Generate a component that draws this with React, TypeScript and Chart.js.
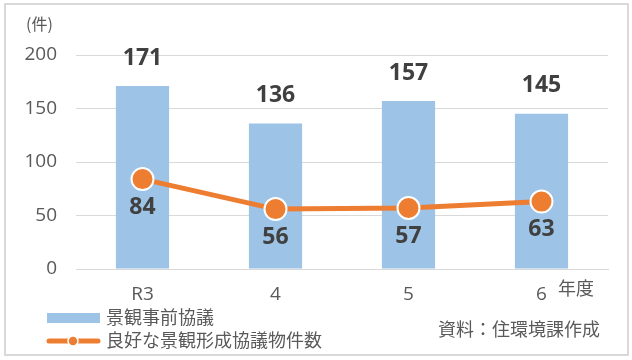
import React, { useEffect, useRef } from "react";
import { Chart, registerables } from "chart.js";

Chart.register(...registerables);

const categories = ["R3", "4", "5", "6"];
const consultations = [171, 136, 157, 145];
const goodCases = [84, 56, 57, 63];
const yTicks = [0, 50, 100, 150, 200];
const seriesNames = ["景観事前協議", "良好な景観形成協議物件数"];
const unitLabel = "(件)";
const xUnitLabel = "年度";
const sourceLabel = "資料：住環境課作成";

const BLUE = "#9DC3E6";
const ORANGE = "#ED7D31";
const FONT = "'Open Sans', 'Noto Sans CJK JP', sans-serif";
const JFONT = "'Noto Sans CJK JP', sans-serif";

export default function App() {
  const ref = useRef<HTMLCanvasElement | null>(null);

  useEffect(() => {
    if (!ref.current) return;
    const overlay = {
      id: "overlay",
      afterDraw(chart: any) {
        const ctx = chart.ctx as CanvasRenderingContext2D;
        ctx.save();
        // outer border
        ctx.strokeStyle = "#d9d9d9";
        ctx.lineWidth = 2;
        ctx.strokeRect(5, 4, 623, 351);

        // data labels
        ctx.textAlign = "center";
        ctx.textBaseline = "middle";
        ctx.fillStyle = "#404040";
        ctx.font = `bold 23px ${FONT}`;
        const barMeta = chart.getDatasetMeta(1);
        barMeta.data.forEach((el: any, i: number) => {
          ctx.fillText(String(consultations[i]), el.x, el.y - 28);
        });
        const lineMeta = chart.getDatasetMeta(0);
        lineMeta.data.forEach((el: any, i: number) => {
          ctx.fillText(String(goodCases[i]), el.x, el.y + 28);
        });

        // unit labels
        ctx.fillStyle = "#595959";
        ctx.font = `16px ${JFONT}`;
        ctx.textAlign = "left";
        ctx.fillText(unitLabel, 26, 24);
        ctx.font = `18px ${JFONT}`;
        ctx.fillText(xUnitLabel, 558, 288);
        ctx.textAlign = "right";
        ctx.fillText(sourceLabel, 600, 329);

        // legend
        ctx.textAlign = "left";
        ctx.fillStyle = BLUE;
        ctx.fillRect(47, 313, 53, 10);
        ctx.strokeStyle = ORANGE;
        ctx.lineWidth = 5;
        ctx.lineCap = "round";
        ctx.beginPath();
        ctx.moveTo(49, 341);
        ctx.lineTo(98, 341);
        ctx.stroke();
        ctx.fillStyle = ORANGE;
        ctx.strokeStyle = "#ffffff";
        ctx.lineWidth = 1.5;
        ctx.beginPath();
        ctx.arc(73, 341, 5, 0, Math.PI * 2);
        ctx.fill();
        ctx.stroke();
        ctx.fillStyle = "#595959";
        ctx.font = `18px ${JFONT}`;
        ctx.fillText(seriesNames[0], 106, 317);
        ctx.fillText(seriesNames[1], 106, 340);
        ctx.restore();
      },
    };

    const chart = new Chart(ref.current, {
      type: "bar",
      data: {
        labels: categories,
        datasets: [
          {
            type: "line",
            label: seriesNames[1],
            data: goodCases,
            borderColor: ORANGE,
            borderWidth: 5,
            backgroundColor: ORANGE,
            pointRadius: 11,
            pointBorderColor: "#ffffff",
            pointBorderWidth: 2,
            pointBackgroundColor: ORANGE,
            order: 0,
          } as any,
          {
            type: "bar",
            label: seriesNames[0],
            data: consultations,
            backgroundColor: BLUE,
            categoryPercentage: 0.4,
            barPercentage: 1,
            order: 1,
          },
        ],
      },
      options: {
        responsive: false,
        animation: false,
        devicePixelRatio: 1,
        layout: { padding: { top: 55, right: 24, left: 0, bottom: 0 } },
        plugins: {
          legend: { display: false },
          tooltip: { enabled: false },
        },
        scales: {
          x: {
            grid: { display: false },
            border: { display: true, color: "#d9d9d9", width: 1 },
            ticks: {
              color: "#595959",
              font: { family: FONT, size: 19 },
              padding: 6,
            },
            afterFit(scale: any) {
              scale.height = 91;
            },
          },
          y: {
            min: 0,
            max: 200,
            afterBuildTicks(scale: any) {
              scale.ticks = yTicks.map((v) => ({ value: v }));
            },
            grid: { color: "#d9d9d9", lineWidth: 1, drawTicks: false },
            border: { display: false },
            ticks: {
              color: "#595959",
              font: { family: FONT, size: 19 },
              padding: 19,
            },
            afterFit(scale: any) {
              scale.width = 76;
            },
          },
        },
      },
      plugins: [overlay],
    });
    return () => chart.destroy();
  }, []);

  return (
    <div style={{ position: "absolute", left: 0, top: 0, width: 632, height: 360 }}>
      <canvas ref={ref} width={632} height={360} style={{ width: 632, height: 360 }} />
    </div>
  );
}
